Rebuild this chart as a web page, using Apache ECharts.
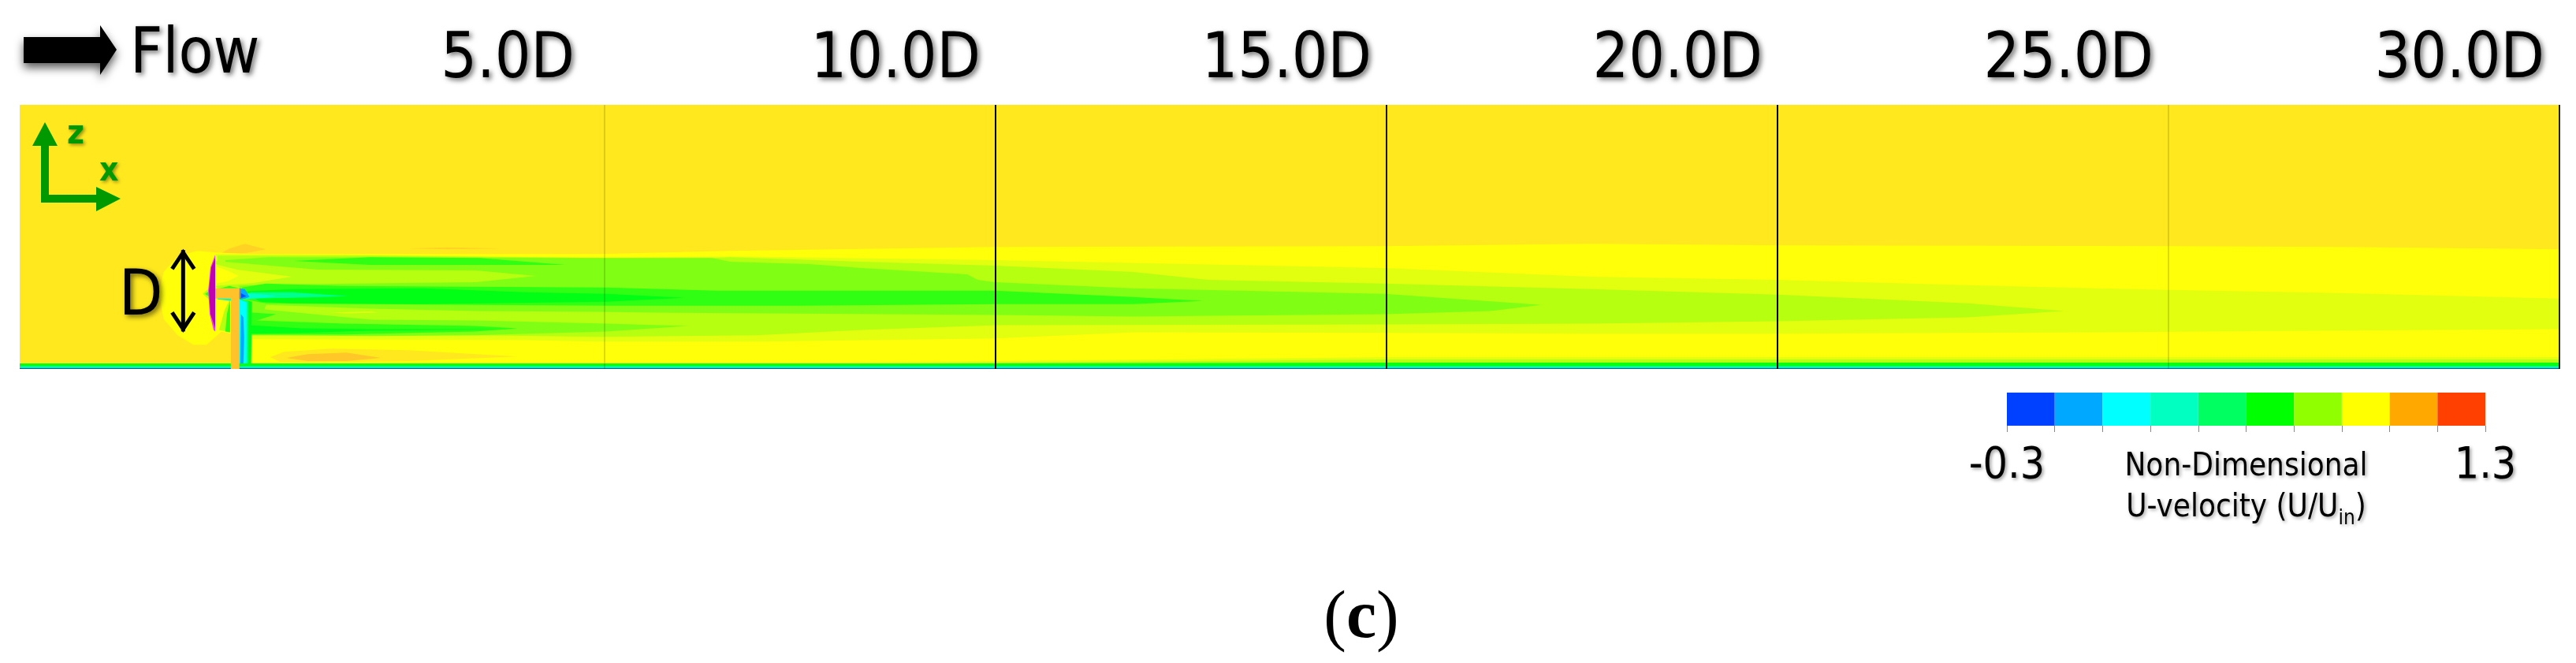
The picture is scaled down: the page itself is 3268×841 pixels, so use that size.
<!DOCTYPE html>
<html><head><meta charset="utf-8">
<style>html,body{margin:0;padding:0;background:#fff}#c{width:3268px;height:841px}</style>
<script src="https://cdn.jsdelivr.net/npm/echarts@6/dist/echarts.min.js"></script>
</head><body><div id="c"></div>
<script>
// Values. x = downstream distance in D, z = height above ground in D.
const stationLabels = [5, 10, 15, 20, 25, 30];
const stationLines = [5, 10, 15, 20, 25, 30];
const colorLevels = [-0.3, -0.14, 0.02, 0.18, 0.34, 0.5, 0.66, 0.82, 0.98, 1.14, 1.3];
const colorSwatches = ['#0040FF', '#00A8FF', '#00FFFF', '#00FFC0', '#00FF60', '#00FF00', '#90FF00', '#FFFF00', '#FFA800', '#FF4000'];
const legendEnds = [-0.3, 1.3];

const orangeTop = [[.06,1.46],[.2,1.54],[.4,1.6],[.67,1.53],[.4,1.48]];
const orangeThin = [[2.48,1.54],[3,1.555],[3.69,1.54],[3,1.53]];
const yellowWake = [[-.7,.97],[-.64,1.24],[-.46,1.44],[-.21,1.51],[.02,1.49],[.5,1.47],[2,1.47],[4.93,1.47],[6.61,1.51],[10,1.56],[15,1.57],[17.62,1.6],[20,1.58],[25,1.57],[27.21,1.56],[30,1.53],[30,.05],[.46,.05],[.42,.4],[.1,.48],[-.09,.31],[-.26,.31],[-.46,.43],[-.64,.64]];
const freeLens = [[.72,.15],[.9,.22],[1.5,.26],[2.5,.24],[3.89,.16],[2.5,.1],[1.2,.08],[.85,.09]];
const orangeLens = [[.93,.14],[1.2,.19],[1.7,.21],[2.14,.14],[1.7,.1],[1.2,.1]];
const paleWake = [[.02,1.47],[2,1.46],[4.93,1.42],[6.61,1.44],[10,1.39],[14.98,1.29],[17.62,1.18],[20,1.14],[22.44,1.07],[24.08,1.03],[25,1.01],[27.21,.97],[30,.9],[30,.51],[24.08,.47],[20,.45],[17.62,.45],[14.98,.46],[11.76,.47],[10,.39],[7,.35],[4.93,.35],[3.9,.37],[.5,.38],[.46,.9],[.02,.9]];
const limeWake = [[.05,1.45],[2,1.45],[4.93,1.42],[6.37,1.42],[6.61,1.43],[8.29,1.37],[10,1.32],[11.76,1.24],[12.72,1.14],[14.98,1.09],[17.62,1.02],[20,.95],[22.44,.84],[23.66,.74],[22.44,.66],[20,.61],[17.62,.58],[15,.57],[10,.56],[8.29,.5],[6.95,.43],[4.93,.41],[3.35,.43],[.46,.43],[.46,.9],[.05,.9]];
const greenWake = [[.15,1.39],[.7,1.43],[4.93,1.42],[6.37,1.42],[6.61,1.37],[7.62,1.34],[8.29,1.29],[9.64,1.21],[9.77,1.14],[10,1.11],[11.76,1.03],[14.98,.96],[16.98,.82],[16.33,.74],[15,.7],[11.76,.67],[10,.69],[7.05,.71],[5.6,.72],[4.93,.73],[3.35,.74],[2.01,.77],[.67,.82],[.65,.76],[2.01,.63],[3.35,.62],[5.03,.58],[6.06,.55],[5.03,.48],[3.35,.43],[2.01,.42],[.7,.43],[.49,.43],[.49,.85],[.33,.9],[.33,1.05],[.15,1.2]];
const limeLensUpper = [[.02,1.38],[1.33,1.27],[3.35,1.26],[4.12,1.19],[3.35,1.11],[1.67,1.09],[.42,1.07],[.02,1.04]];
const paleLensUpper = [[.02,1.34],[.3,1.27],[1,1.18],[.5,1.1],[.02,1.06]];
const yellowLensUpper = [[.02,1.31],[.17,1.26],[.32,1.19],[.17,1.12],[.02,1.09]];
const paleLensLower = [[1.5,.72],[2,.735],[2.1,.72],[1.7,.71]];
const ringUpper = [[1.02,1.38],[2,1.43],[3.4,1.42],[4.5,1.33],[3.4,1.33],[2,1.33]];
const hubWake = [[.36,1.04],[.67,1.09],[1.67,1.06],[5.03,1.04],[6.44,1],[10,1],[11.76,.92],[12.65,.87],[11.76,.83],[10,.83],[7.52,.81],[5.03,.81],[3.35,.82],[.67,.84],[.39,.89]];
const ringLower = [[.49,.72],[.8,.7],[.55,.62],[1.67,.58],[3.35,.55],[3.89,.52],[3.35,.48],[1.67,.44],[.49,.44]];
const hubCore = [[.36,.99],[1,1.02],[2.68,1.03],[4,.98],[5.03,.96],[6.02,.91],[5.03,.86],[2.68,.83],[1,.84],[.6,.86]];
const ringLowerCore = [[.46,.56],[1.13,.52],[2,.51],[3.9,.51],[2,.49],[1.13,.46],[.46,.45]];
const hubSpring = [[.46,.98],[1,.98],[1.73,.93],[1,.91],[.46,.9]];
const hubCyan = [[.4,.97],[.65,.95],[.8,.93],[.65,.91],[.4,.89]];
const hubBlue = [[.33,1.03],[.4,1.02],[.46,.92],[.4,.9],[.33,.88]];
const hubDeep = [[.33,.98],[.42,.93],[.33,.9]];
const towerGreen = [[.33,.9],[.49,.86],[.48,.05],[.33,.05]];
const towerSpring = [[.33,.89],[.44,.87],[.44,.05],[.33,.05]];
const towerCyan = [[.33,.89],[.42,.85],[.42,.04],[.33,.04]];
const towerBlue = [[.35,.7],[.38,.66],[.39,.4],[.38,.05],[.34,.05],[.345,.4]];
const frontLime = [[-.14,.96],[-.05,1.04],[0,1.04],[0,.86],[-.05,.88]];
const frontGreen = [[-.11,.96],[-.05,1],[-.05,.92]];
const leeLime = [[.21,.9],[.14,.75],[.07,.5],[.21,.47]];
const leeGreen = [[.21,.88],[.17,.7],[.15,.48],[.21,.47]];
const nacelleTopGreen = [[.08,1.03],[.2,1.06],[.33,1.03]];
const nacelleUnder = [[.05,.92],[.24,.9],[.24,.87],[.05,.89]];
const groundPale = [[8,.08],[12,.12],[15,.15],[30,.15],[30,.08]];
const groundLime = [[9,.07],[15,.12],[30,.12],[30,.07]];
const groundGreen = [[-2.48,.07],[10,.07],[15,.08],[30,.08],[30,0],[-2.48,0]];
const groundSpring = [[-2.48,.034],[30,.034],[30,0],[-2.48,0]];
const groundCyan = [[-2.48,.027],[30,.027],[30,0],[-2.48,0]];
const groundLine = [[-2.48,.012],[30,.012],[30,0],[-2.48,0]];
const rotorEdge = [[.02,1.46],[-.04,1.3],[-.07,1],[-.05,.7],[0,.5],[.02,.48]];
const rotorCore = [[.02,1.42],[-.03,1.3],[-.06,1],[-.04,.7],[.02,.52]];
const nacelleTower = [[.02,1.03],[.33,1.03],[.33,0],[.22,0],[.22,.9],[.02,.9]];
const hubEnd = [[.33,1.03],[.35,1.03],[.35,.9],[.33,.9]];
const diameterArrow = [[-.39,.48],[-.39,1.52]];

const C = {free:'#FFE91E', yel:'#FFFF0A', pale:'#E2FF10', lime:'#B6FF10', grn:'#80FF14', g2:'#30FF14', g3:'#00FF14',
  spr:'#00FF90', cyan:'#00FFFF', sky:'#00A8FF', blue:'#0050FF', org:'#FFC828', org2:'#FFD224', mag:'#F040F0', mag2:'#C000B0', tow:'#FFC22A'};
const bands = [
  [orangeTop,C.org2],[orangeThin,C.org2],[yellowWake,C.yel],[freeLens,C.free],[orangeLens,C.org],
  [paleWake,C.pale],[limeWake,C.lime],[greenWake,C.grn],[limeLensUpper,C.lime],[paleLensUpper,C.pale],[yellowLensUpper,C.yel],[paleLensLower,C.pale],
  [ringUpper,C.g2],[hubWake,C.g2],[ringLower,C.g2],[hubCore,C.g3],[ringLowerCore,C.g3],[hubSpring,C.spr],[hubCyan,'#00FFC8'],[hubBlue,C.sky],[hubDeep,C.blue],
  [towerGreen,C.g3],[towerSpring,C.spr],[towerCyan,C.cyan],[towerBlue,C.sky],
  [frontLime,C.lime],[frontGreen,C.g2],[leeLime,C.lime],[leeGreen,C.g2],[nacelleTopGreen,C.g2],[nacelleUnder,'#00FFC0'],
  [groundPale,C.pale],[groundLime,C.lime],[groundGreen,'#08FF14'],[groundSpring,C.spr],[groundCyan,C.cyan],[groundLine,'#006C7C'],
  [rotorEdge,C.mag],[rotorCore,C.mag2],[nacelleTower,C.tow],[hubEnd,'#7C8A90']
];
const lineAlpha = {5:.28,10:1,15:.9,20:1,25:.28,30:.85};
const FONT = '"DejaVu Sans Condensed","DejaVu Sans",sans-serif';
const shadow = {textShadowColor:'rgba(0,0,0,.55)',textShadowBlur:6,textShadowOffsetX:3,textShadowOffsetY:3};
const bigText = {color:'#000',fontFamily:FONT,fontSize:80,...shadow};
const midText = {color:'#000',fontFamily:FONT,fontSize:55,textShadowColor:'rgba(0,0,0,.4)',textShadowBlur:4,textShadowOffsetX:2,textShadowOffsetY:2};

const chart = echarts.init(document.getElementById('c'),null,{renderer:'canvas'});
chart.setOption({
  animation:false, backgroundColor:'#fff',
  title:{text:'{p|(}{c|c}{p|)}',left:1722,top:738,textAlign:'center',textStyle:{rich:{
    p:{fontFamily:'"Liberation Serif",serif',fontWeight:'normal',fontSize:86,color:'#000'},
    c:{fontFamily:'"Liberation Serif",serif',fontWeight:'bold',fontSize:86,color:'#000'}}}},
  grid:[
    {left:25,top:133,width:3222,height:335,show:true,backgroundColor:C.free,borderWidth:0},
    {left:2546,top:498,width:607,height:42,show:false}
  ],
  xAxis:[
    {gridIndex:0,type:'value',position:'top',min:-2.48,max:30,axisLine:{show:false},axisTick:{show:false},splitLine:{show:false},
     axisLabel:{customValues:stationLabels,align:'right',margin:16,
       formatter:v=>(v===5?'{a|':'{b|')+v.toFixed(1)+'D}',
       rich:{a:{...bigText,padding:[0,38,0,0]},b:{...bigText,padding:[0,19,0,0]}}}},
    {gridIndex:1,type:'value',position:'bottom',min:-0.3,max:1.3,axisLine:{show:false},splitLine:{show:false},
     axisTick:{show:true,customValues:colorLevels,length:8,inside:false,lineStyle:{color:'#888',width:1}},
     axisLabel:{customValues:legendEnds,margin:24,formatter:v=>String(v),...midText},
     name:'Non-Dimensional\nU-velocity (U/U{s|in}{r|)}',nameLocation:'middle',nameGap:27,nameMoveOverlap:false,
     nameTextStyle:{color:'#000',fontFamily:FONT,fontSize:40,lineHeight:52,verticalAlign:'top',
       textShadowColor:'rgba(0,0,0,.35)',textShadowBlur:4,textShadowOffsetX:2,textShadowOffsetY:2,
       rich:{s:{fontFamily:FONT,fontSize:26,lineHeight:24,verticalAlign:'bottom',padding:[14,0,0,0],color:'#000'},r:{fontFamily:FONT,fontSize:40,color:'#000'}}}}
  ],
  yAxis:[
    {gridIndex:0,type:'value',min:0,max:3.377,show:false},
    {gridIndex:1,type:'value',min:0,max:1,show:false}
  ],
  series:[
    {type:'custom',name:'U contours',xAxisIndex:0,yAxisIndex:0,silent:true,z:2,
     data:bands.map((b,i)=>[i]),
     renderItem:(p,api)=>{const b=bands[api.value(0)];
       return {type:'polygon',shape:{points:b[0].map(q=>api.coord(q))},style:{fill:b[1]}};}},
    {type:'custom',name:'Stations',xAxisIndex:0,yAxisIndex:0,silent:true,z:3,
     data:stationLines.map(v=>[v]),
     renderItem:(p,api)=>{const v=api.value(0),a=api.coord([v,0]),t=api.coord([v,3.377]);
       return {type:'line',shape:{x1:a[0],y1:a[1],x2:t[0],y2:t[1]},style:{stroke:'#000',lineWidth:v===5||v===25?1:2,opacity:lineAlpha[v]}};}},
    {type:'custom',name:'Diameter',xAxisIndex:0,yAxisIndex:0,silent:true,z:4,
     data:[[0]],
     renderItem:(p,api)=>{const a=api.coord(diameterArrow[0]),b=api.coord(diameterArrow[1]),w=14,h=24;
       return {type:'group',children:[
         {type:'polyline',shape:{points:[[a[0],a[1]],[b[0],b[1]]]},style:{stroke:'#000',lineWidth:5,fill:null}},
         {type:'polyline',shape:{points:[[b[0]-w,b[1]+h],[b[0],b[1]+3],[b[0]+w,b[1]+h]]},style:{stroke:'#000',lineWidth:5,fill:null}},
         {type:'polyline',shape:{points:[[a[0]-w,a[1]-h],[a[0],a[1]-3],[a[0]+w,a[1]-h]]},style:{stroke:'#000',lineWidth:5,fill:null}}
       ]};}},
    {type:'custom',name:'Color key',xAxisIndex:1,yAxisIndex:1,silent:true,z:2,
     data:colorSwatches.map((c,i)=>[i]),
     renderItem:(p,api)=>{const i=api.value(0),a=api.coord([colorLevels[i],1]),b=api.coord([colorLevels[i+1],0]);
       return {type:'rect',shape:{x:a[0],y:a[1],width:b[0]-a[0],height:b[1]-a[1]},style:{fill:colorSwatches[i]}};}}
  ],
  graphic:[
    {type:'polygon',z:10,shape:{points:[[30,47],[127,47],[127,32],[148,63],[127,95],[127,80],[30,80]]},
     style:{fill:'#000',shadowColor:'rgba(0,0,0,.65)',shadowBlur:12,shadowOffsetX:0,shadowOffsetY:6}},
    {type:'text',z:10,left:165,top:31,style:{text:'Flow',...bigText}},
    {type:'text',z:10,left:151,top:338,style:{text:'D',...bigText}},
    {type:'polygon',z:10,shape:{points:[[52,257],[52,185],[41,185],[57,155],[73,185],[62,185],[62,247],[122,247],[122,237],[153,252],[122,268],[122,257]]},style:{fill:'#009A00'}},
    {type:'text',z:10,left:85,top:150,style:{text:'z',fill:'#009A00',font:'bold 42px '+FONT,textShadowColor:'rgba(0,0,0,.4)',textShadowBlur:4,textShadowOffsetX:2,textShadowOffsetY:2}},
    {type:'text',z:10,left:126,top:197,style:{text:'x',fill:'#009A00',font:'bold 42px '+FONT,textShadowColor:'rgba(0,0,0,.4)',textShadowBlur:4,textShadowOffsetX:2,textShadowOffsetY:2}}
  ]
});
</script></body></html>
